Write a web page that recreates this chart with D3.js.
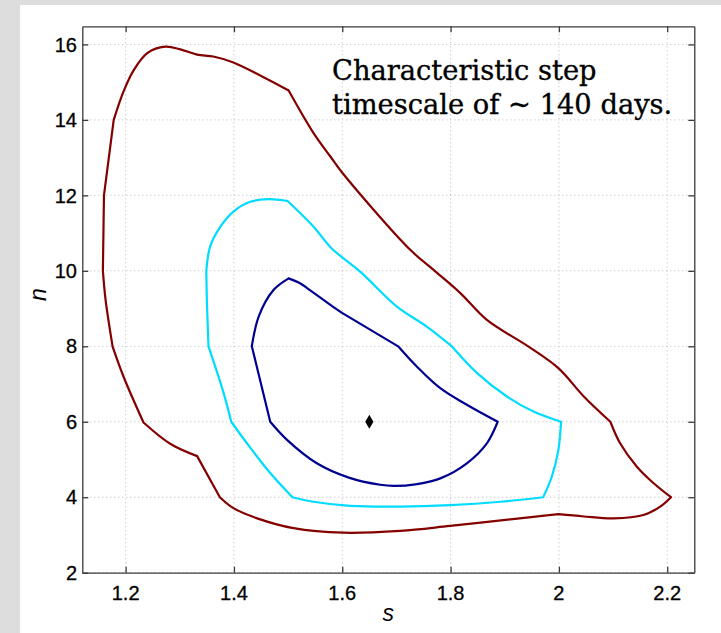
<!DOCTYPE html>
<html>
<head>
<meta charset="utf-8">
<script src="https://cdn.jsdelivr.net/npm/d3@7"></script>
<style>
  html, body { margin: 0; padding: 0; background: #ffffff; }
  svg { display: block; }
</style>
</head>
<body>
<script>
// ---------- data ----------
const xTicks = [1.2, 1.4, 1.6, 1.8, 2.0, 2.2];
const xTickLabels = ["1.2", "1.4", "1.6", "1.8", "2", "2.2"];
const yTicks = [2, 4, 6, 8, 10, 12, 14, 16];
const yTickLabels = ["2", "4", "6", "8", "10", "12", "14", "16"];
const xLabel = "s";
const yLabel = "n";
const annotation = ["Characteristic step", "timescale of ~ 140 days."];

// outer contour (dark red) [s, n]
const redContour = [
  [1.158,10],[1.160,12],[1.178,14],[1.196,14.75],[1.215,15.32],[1.240,15.77],
  [1.273,15.94],[1.301,15.87],[1.332,15.73],[1.362,15.68],[1.399,15.52],[1.452,15.15],
  [1.501,14.78],[1.547,13.65],[1.578,13.03],[1.600,12.6],[1.726,10.55],[1.769,10.02],
  [1.818,9.41],[1.867,8.70],[1.944,7.99],[1.999,7.42],[2.046,6.67],[2.095,6.0],
  [2.113,5.43],[2.144,4.81],[2.175,4.37],[2.207,4.0],[2.187,3.75],[2.156,3.53],
  [2.101,3.44],[2.046,3.49],[1.999,3.55],[1.953,3.48],[1.799,3.24],[1.707,3.11],
  [1.602,3.06],[1.510,3.18],[1.443,3.44],[1.399,3.71],[1.374,4.0],[1.332,5.09],
  [1.283,5.41],[1.233,5.98],[1.196,7.20],[1.176,7.99],[1.163,9.23],[1.158,10]
];
const redKinks = [0, 1, 2, 12, 23, 27, 32, 40, 41, 43, 45, 47];

// middle contour (cyan)
const cyanContour = [
  [1.349,10],[1.356,10.64],[1.375,11.17],[1.399,11.57],[1.430,11.83],[1.464,11.90],
  [1.499,11.85],[1.547,11.17],[1.580,10.6],[1.633,9.98],[1.701,9.05],[1.756,8.52],
  [1.803,7.99],[1.849,7.29],[1.904,6.67],[1.953,6.27],[2.004,6.0],[1.999,5.25],
  [1.987,4.55],[1.971,4.0],[1.892,3.88],[1.799,3.79],[1.707,3.75],[1.615,3.77],
  [1.547,3.88],[1.508,4.0],[1.467,4.64],[1.424,5.43],[1.395,6.0],[1.381,6.76],
  [1.353,8.0],[1.350,9.23],[1.349,10]
];
const cyanKinks = [0, 6, 12, 16, 19, 25, 28, 30, 32];

// inner contour (navy)
const navyContour = [
  [1.501,9.80],[1.522,9.67],[1.535,9.54],[1.578,9.10],[1.598,8.90],[1.704,7.99],
  [1.738,7.46],[1.781,6.89],[1.830,6.45],[1.887,6.0],[1.867,5.43],[1.830,4.90],
  [1.781,4.50],[1.735,4.34],[1.695,4.30],[1.670,4.33],[1.612,4.52],[1.553,4.90],
  [1.498,5.52],[1.467,6.0],[1.433,8.0],[1.446,8.8],[1.473,9.49],[1.501,9.80]
];
const navyKinks = [0, 4, 5, 9, 19, 20, 23];

const bestFit = [[1.65, 6.0]];

// ---------- layout ----------
const W = 721, H = 633;
const plot = { left: 82.3, right: 694.3, top: 26.3, bottom: 572.7 };

const svg = d3.select("body").append("svg").attr("width", W).attr("height", H);

svg.append("rect").attr("width", W).attr("height", H).attr("fill", "#dddddd");
svg.append("rect").attr("x", 20).attr("y", 5).attr("width", W - 20).attr("height", H - 5).attr("fill", "#ffffff");

const x = d3.scaleLinear().domain([1.12, 2.25]).range([plot.left, plot.right]);
const y = d3.scaleLinear().domain([2, 16.48]).range([plot.bottom, plot.top]);

// grid
const grid = svg.append("g");
grid.selectAll("line.gx").data(xTicks).join("line")
  .attr("x1", d => x(d)).attr("x2", d => x(d))
  .attr("y1", plot.top).attr("y2", plot.bottom)
  .attr("stroke", "#b8b8b8").attr("stroke-width", 1).attr("stroke-dasharray", "1,3");
grid.selectAll("line.gy").data(yTicks).join("line")
  .attr("x1", plot.left).attr("x2", plot.right)
  .attr("y1", d => y(d)).attr("y2", d => y(d))
  .attr("stroke", "#b8b8b8").attr("stroke-width", 1).attr("stroke-dasharray", "1,3");

// contours: smooth pieces between corner points
const line = d3.line().x(d => x(d[0])).y(d => y(d[1])).curve(d3.curveCatmullRom.alpha(0.5));
function piecewisePath(pts, kinks) {
  let p = "";
  for (let i = 0; i < kinks.length - 1; i++) {
    p += line(pts.slice(kinks[i], kinks[i + 1] + 1));
  }
  return p;
}
const contours = [
  { data: redContour, kinks: redKinks, color: "#840000" },
  { data: cyanContour, kinks: cyanKinks, color: "#00dcff" },
  { data: navyContour, kinks: navyKinks, color: "#000090" }
];
svg.append("g").selectAll("path").data(contours).join("path")
  .attr("d", d => piecewisePath(d.data, d.kinks))
  .attr("fill", "none")
  .attr("stroke", d => d.color)
  .attr("stroke-width", 2.2)
  .attr("stroke-linejoin", "round")
  .attr("stroke-linecap", "round");

// best-fit point
svg.append("g").selectAll("path").data(bestFit).join("path")
  .attr("transform", d => `translate(${x(d[0])},${y(d[1])})`)
  .attr("d", d3.symbol().type(d3.symbolDiamond).size(58))
  .attr("fill", "#000");

// axes frame with inward ticks on all sides
const axBottom = d3.axisBottom(x).tickValues(xTicks).tickSizeInner(-6).tickSizeOuter(0).tickFormat("");
const axTop = d3.axisTop(x).tickValues(xTicks).tickSizeInner(-6).tickSizeOuter(0).tickFormat("");
const axLeft = d3.axisLeft(y).tickValues(yTicks).tickSizeInner(-6).tickSizeOuter(0).tickFormat("");
const axRight = d3.axisRight(y).tickValues(yTicks).tickSizeInner(-6).tickSizeOuter(0).tickFormat("");

function styleAxis(g) {
  g.selectAll("path,line").attr("stroke", "#3a3a3a").attr("stroke-width", 1.3);
}
svg.append("g").attr("transform", `translate(0,${plot.bottom})`).call(axBottom).call(styleAxis);
svg.append("g").attr("transform", `translate(0,${plot.top})`).call(axTop).call(styleAxis);
svg.append("g").attr("transform", `translate(${plot.left},0)`).call(axLeft).call(styleAxis);
svg.append("g").attr("transform", `translate(${plot.right},0)`).call(axRight).call(styleAxis);

// tick labels
const lblFont = "'Liberation Sans', Arial, Helvetica, sans-serif";
svg.append("g").selectAll("text").data(xTicks).join("text")
  .attr("x", d => x(d)).attr("y", 599.5)
  .attr("text-anchor", "middle")
  .attr("font-family", lblFont).attr("font-size", 20).attr("fill", "#000")
  .attr("stroke", "#000").attr("stroke-width", 0.3)
  .text((d, i) => xTickLabels[i]);
svg.append("g").selectAll("text").data(yTicks).join("text")
  .attr("x", 77).attr("y", d => y(d)).attr("dy", "0.36em")
  .attr("text-anchor", "end")
  .attr("font-family", lblFont).attr("font-size", 20).attr("fill", "#000")
  .attr("stroke", "#000").attr("stroke-width", 0.3)
  .text((d, i) => yTickLabels[i]);

// axis labels
svg.append("text")
  .attr("x", (plot.left + plot.right) / 2).attr("y", 621)
  .attr("text-anchor", "middle")
  .attr("font-family", lblFont).attr("font-style", "italic").attr("font-size", 23).attr("fill", "#000")
  .text(xLabel);
svg.append("text")
  .attr("transform", `translate(46,${(plot.top + plot.bottom) / 2 - 5}) rotate(-90)`)
  .attr("text-anchor", "middle")
  .attr("font-family", lblFont).attr("font-style", "italic").attr("font-size", 23).attr("fill", "#000")
  .text(yLabel);

// annotation
svg.append("g").selectAll("text").data(annotation).join("text")
  .attr("x", 332).attr("y", (d, i) => 80 + i * 34)
  .attr("font-family", "'DejaVu Serif', serif").attr("font-size", 27.3).attr("fill", "#000")
  .attr("stroke", "#000").attr("stroke-width", 0.35)
  .text(d => d);
</script>
</body>
</html>
